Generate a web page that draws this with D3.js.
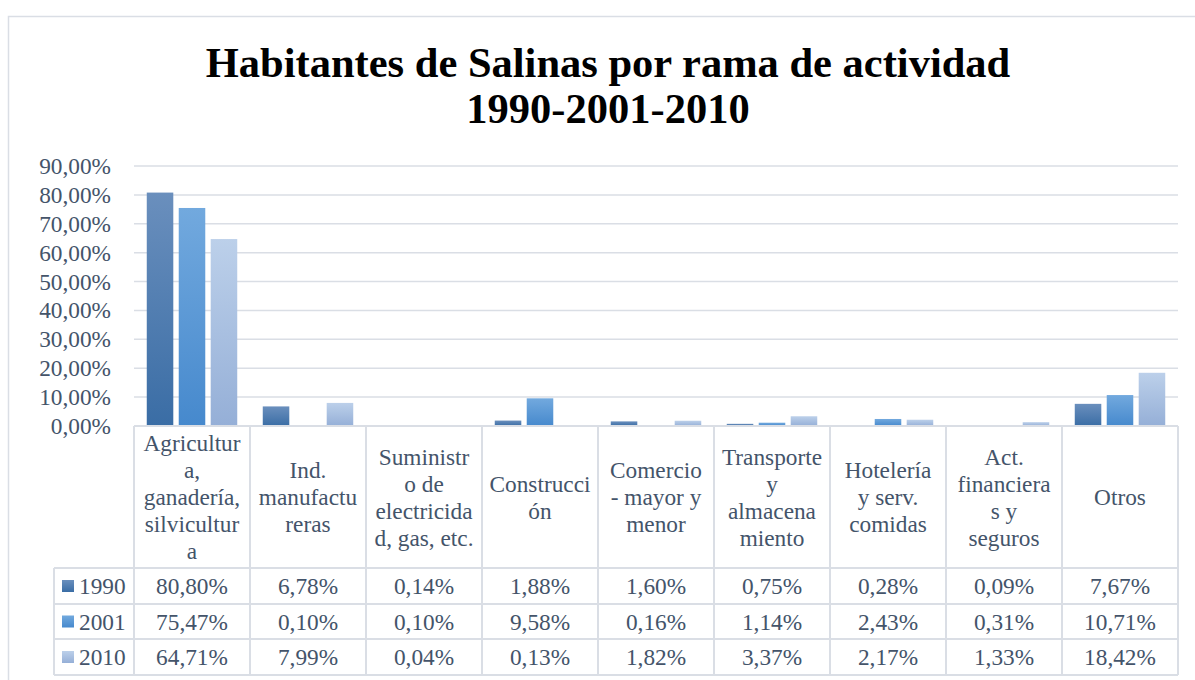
<!DOCTYPE html>
<html>
<head>
<meta charset="utf-8">
<script src="https://cdn.jsdelivr.net/npm/d3@7"></script>
<style>
  html, body { margin: 0; padding: 0; background: #fff; }
  svg { display: block; }
</style>
</head>
<body>
<svg id="chart" width="1195" height="680"></svg>
<script>
// ---- data ----
const titleLines = ["Habitantes de Salinas por rama de actividad", "1990-2001-2010"];
const categories = [
  "Agricultur\na,\nganadería,\nsilvicultur\na",
  "Ind.\nmanufactu\nreras",
  "Suministr\no de\nelectricida\nd, gas, etc.",
  "Construcci\nón",
  "Comercio\n- mayor y\nmenor",
  "Transporte\ny\nalmacena\nmiento",
  "Hotelería\ny serv.\ncomidas",
  "Act.\nfinanciera\ns y\nseguros",
  "Otros"
];
const seriesNames = ["1990", "2001", "2010"];
const values1990 = [80.80, 6.78, 0.14, 1.88, 1.60, 0.75, 0.28, 0.09, 7.67];
const values2001 = [75.47, 0.10, 0.10, 9.58, 0.16, 1.14, 2.43, 0.31, 10.71];
const values2010 = [64.71, 7.99, 0.04, 0.13, 1.82, 3.37, 2.17, 1.33, 18.42];
const yTicks = [0, 10, 20, 30, 40, 50, 60, 70, 80, 90];

const seriesValues = [values1990, values2001, values2010];
const gradStops = [
  ["#6a8fbd", "#3a6da5"],
  ["#72a9de", "#4689cd"],
  ["#bcd0ea", "#95afd7"]
];

const svg = d3.select("#chart");
const font = "Liberation Serif, Tinos, DejaVu Serif, Times New Roman, serif";
const textColor = "#44546a";
const lineColor = "#dadee5";
const fs = 23.3;

svg.style("font-family", font);

// outer frame
svg.append("rect").attr("x", 8.5).attr("y", 16.5).attr("width", 1200).attr("height", 700)
  .attr("fill", "#fff").attr("stroke", lineColor).attr("stroke-width", 1.5);

// gradients
const defs = svg.append("defs");
gradStops.forEach((s, i) => {
  const g = defs.append("linearGradient").attr("id", "g" + i)
    .attr("x1", 0).attr("y1", 0).attr("x2", 0).attr("y2", 1);
  g.append("stop").attr("offset", "0%").attr("stop-color", s[0]);
  g.append("stop").attr("offset", "100%").attr("stop-color", s[1]);
});

// title
titleLines.forEach((t, i) => {
  svg.append("text").attr("x", 608).attr("y", 77 + i * 46).attr("text-anchor", "middle")
    .style("font-family", font).attr("font-weight", "bold").attr("font-size", 42.5).attr("fill", "#000")
    .text(t);
});

// scales
const plotLeft = 134, plotRight = 1178, plotTop = 166, plotBottom = 426;
const y = d3.scaleLinear().domain([0, 90]).range([plotBottom, plotTop]);
const x0 = d3.scaleBand().domain(d3.range(categories.length)).range([plotLeft, plotRight]).padding(0);
const bw = x0.bandwidth();
const x1 = d3.scaleBand().domain(seriesNames).range([bw * 0.11, bw * 0.89]).paddingInner(0.17).paddingOuter(0);

const fmt = v => d3.format(".2f")(v).replace(".", ",") + "%";

// gridlines
svg.append("g").selectAll("line").data(yTicks).join("line")
  .attr("x1", plotLeft).attr("x2", plotRight)
  .attr("y1", d => y(d)).attr("y2", d => y(d))
  .attr("stroke", lineColor).attr("stroke-width", 1.5);

// y axis labels
const yAxis = d3.axisLeft(y).tickValues(yTicks).tickFormat(fmt).tickSize(0).tickPadding(0);
const ga = svg.append("g").attr("transform", `translate(111,0)`).call(yAxis);
ga.attr("font-family", null).attr("font-size", null);
ga.select(".domain").remove();
ga.selectAll("text").style("font-family", font).attr("font-size", fs).attr("fill", textColor);

// bars
seriesNames.forEach((s, si) => {
  svg.append("g").selectAll("rect").data(seriesValues[si]).join("rect")
    .attr("x", (d, i) => x0(i) + x1(s))
    .attr("width", x1.bandwidth())
    .attr("y", d => y(d))
    .attr("height", d => plotBottom - y(d))
    .attr("fill", `url(#g${si})`);
});

// data table
const tableLeft = 54;
const headerBottom = 568;
const rowYs = [568, 604, 639, 675];
const tg = svg.append("g");
tg.append("line").attr("x1", plotLeft).attr("x2", plotRight).attr("y1", plotBottom).attr("y2", plotBottom)
  .attr("stroke", lineColor).attr("stroke-width", 2);
rowYs.forEach(ry => {
  tg.append("line").attr("x1", tableLeft).attr("x2", plotRight).attr("y1", ry).attr("y2", ry)
    .attr("stroke", lineColor).attr("stroke-width", 2);
});
tg.append("line").attr("x1", tableLeft).attr("x2", tableLeft).attr("y1", headerBottom).attr("y2", rowYs[3])
  .attr("stroke", lineColor).attr("stroke-width", 2);
d3.range(categories.length + 1).forEach(i => {
  const xx = i < categories.length ? x0(i) : plotRight;
  tg.append("line").attr("x1", xx).attr("x2", xx).attr("y1", plotBottom).attr("y2", rowYs[3])
    .attr("stroke", lineColor).attr("stroke-width", 2);
});

// header labels
const lineH = 27;
categories.forEach((c, i) => {
  const lines = c.split("\n");
  const cy = (plotBottom + headerBottom) / 2;
  const startY = cy - (lines.length - 1) * lineH / 2;
  const t = tg.append("text").attr("text-anchor", "middle")
    .style("font-family", font).attr("font-size", fs).attr("fill", textColor);
  lines.forEach((l, li) => {
    t.append("tspan").attr("x", x0(i) + bw / 2).attr("y", startY + li * lineH).attr("dy", "0.35em").text(l);
  });
});

// rows
seriesNames.forEach((s, si) => {
  const cy = (rowYs[si] + rowYs[si + 1]) / 2;
  tg.append("rect").attr("x", 62).attr("y", cy - 6).attr("width", 12).attr("height", 12)
    .attr("fill", `url(#g${si})`);
  tg.append("text").attr("x", 79).attr("y", cy).attr("dy", "0.35em")
    .style("font-family", font).attr("font-size", fs).attr("fill", textColor).text(s);
  tg.append("g").selectAll("text").data(seriesValues[si]).join("text")
    .attr("x", (d, i) => x0(i) + bw / 2).attr("y", cy).attr("dy", "0.35em")
    .attr("text-anchor", "middle")
    .style("font-family", font).attr("font-size", fs).attr("fill", textColor)
    .text(d => fmt(d));
});
</script>
</body>
</html>
